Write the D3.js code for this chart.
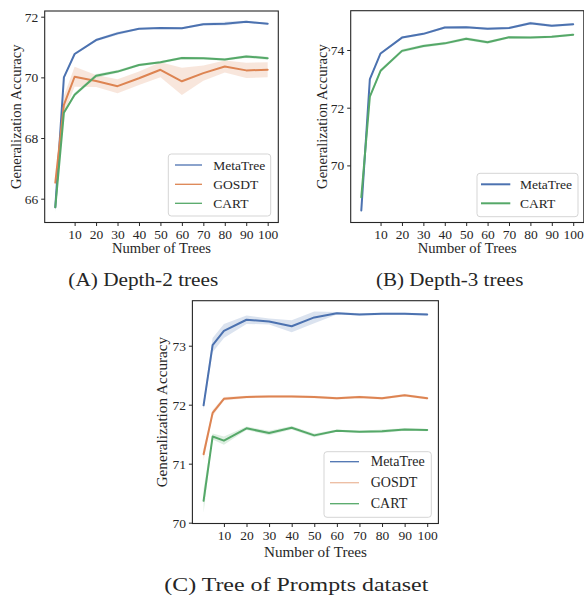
<!DOCTYPE html>
<html>
<head>
<meta charset="utf-8">
<script src="https://cdn.jsdelivr.net/npm/d3@7"></script>
<style>
  html, body { margin: 0; padding: 0; background: #fff; }
  svg { display: block; }
  svg text { font-family: "Liberation Serif", Tinos, "Times New Roman", "DejaVu Serif", serif !important; fill: #262626; }
</style>
</head>
<body>
<script>
// Number of trees in the ensemble (shared x values)
const treeCounts = [1, 5, 10, 20, 30, 40, 50, 60, 70, 80, 90, 100];
const xTickLabels = [10, 20, 30, 40, 50, 60, 70, 80, 90, 100];

// (A) Depth-2 trees: mean accuracy and half-width of the confidence band
const depth2MetaTree    = [65.72, 70.00, 70.77, 71.23, 71.45, 71.60, 71.63, 71.62, 71.75, 71.77, 71.83, 71.77];
const depth2MetaTreeErr = [0.10, 0.05, 0.04, 0.04, 0.05, 0.03, 0.03, 0.03, 0.04, 0.06, 0.04, 0.03];
const depth2Gosdt       = [66.53, 69.09, 70.02, 69.88, 69.71, 69.97, 70.25, 69.87, 70.14, 70.36, 70.23, 70.25];
const depth2GosdtErr    = [0.05, 0.30, 0.33, 0.20, 0.23, 0.22, 0.25, 0.45, 0.25, 0.20, 0.25, 0.25];
const depth2Cart        = [65.72, 68.83, 69.43, 70.05, 70.19, 70.41, 70.50, 70.64, 70.63, 70.59, 70.69, 70.63];
const depth2CartErr     = [0.17, 0.05, 0.06, 0.06, 0.05, 0.04, 0.04, 0.04, 0.04, 0.04, 0.05, 0.05];
const depth2YTicks      = [66, 68, 70, 72];

// (B) Depth-3 trees
const depth3MetaTree    = [68.44, 72.99, 73.88, 74.43, 74.56, 74.78, 74.79, 74.74, 74.76, 74.93, 74.84, 74.89];
const depth3MetaTreeErr = [0.06, 0.05, 0.04, 0.04, 0.04, 0.04, 0.04, 0.04, 0.04, 0.05, 0.04, 0.04];
const depth3Cart        = [68.90, 72.38, 73.28, 73.97, 74.14, 74.23, 74.39, 74.27, 74.44, 74.43, 74.46, 74.53];
const depth3CartErr     = [0.06, 0.06, 0.06, 0.06, 0.05, 0.05, 0.05, 0.05, 0.04, 0.04, 0.04, 0.04];
const depth3YTicks      = [70, 72, 74];

// (C) Tree of Prompts dataset
const topMetaTree    = [71.99, 73.01, 73.25, 73.44, 73.41, 73.33, 73.48, 73.55, 73.53, 73.54, 73.54, 73.53];
const topMetaTreeErr = [0.08, 0.12, 0.12, 0.07, 0.05, 0.10, 0.10, 0.02, 0.02, 0.02, 0.02, 0.02];
const topGosdt       = [71.16, 71.86, 72.10, 72.13, 72.14, 72.14, 72.13, 72.11, 72.13, 72.11, 72.16, 72.11];
const topGosdtErr    = [0.10, 0.05, 0.03, 0.02, 0.02, 0.02, 0.02, 0.02, 0.02, 0.02, 0.02, 0.02];
const topCart        = [70.37, 71.46, 71.39, 71.60, 71.52, 71.61, 71.48, 71.56, 71.54, 71.55, 71.58, 71.57];
const topCartErr     = [0.20, 0.05, 0.07, 0.03, 0.04, 0.03, 0.03, 0.02, 0.02, 0.03, 0.02, 0.02];
const topYTicks      = [70, 71, 72, 73];

const COLORS = { MetaTree: "#4c72b0", GOSDT: "#dd8452", CART: "#55a868" };
const INK = "#262626";
const SERIF = '"Liberation Serif", Tinos, "Times New Roman", "DejaVu Serif", serif';

const svg = d3.select("body").append("svg")
  .attr("width", 584).attr("height", 595)
  .attr("font-family", SERIF);

function drawPanel(p) {
  const x = d3.scaleLinear().domain([-3.95, 104.95]).range([p.left, p.right]);
  const y = d3.scaleLinear().domain(p.yDomain).range([p.bottom, p.top]);
  const g = svg.append("g");

  const clipId = "clip-" + p.id;
  g.append("clipPath").attr("id", clipId)
    .append("rect").attr("x", p.left).attr("y", p.top)
    .attr("width", p.right - p.left).attr("height", p.bottom - p.top);

  const plot = g.append("g").attr("clip-path", `url(#${clipId})`);

  p.series.forEach(s => {
    const rows = treeCounts.map((t, i) => ({ t, v: s.values[i], e: s.err[i] }));
    plot.append("path").datum(rows)
      .attr("d", d3.area().x(d => x(d.t)).y0(d => y(d.v - d.e)).y1(d => y(d.v + d.e)))
      .attr("fill", COLORS[s.name]).attr("fill-opacity", 0.2).attr("stroke", "none");
  });
  p.series.forEach(s => {
    const rows = treeCounts.map((t, i) => ({ t, v: s.values[i] }));
    plot.append("path").datum(rows)
      .attr("d", d3.line().x(d => x(d.t)).y(d => y(d.v)))
      .attr("fill", "none").attr("stroke", COLORS[s.name])
      .attr("stroke-width", 2).attr("stroke-linejoin", "round").attr("stroke-linecap", "round");
  });

  // axes
  const xAxis = g.append("g").attr("transform", `translate(0,${p.bottom})`)
    .call(d3.axisBottom(x).tickValues(xTickLabels).tickFormat(d3.format("d"))
      .tickSize(3.5).tickPadding(3));
  const yAxis = g.append("g").attr("transform", `translate(${p.left},0)`)
    .call(d3.axisLeft(y).tickValues(p.yTicks).tickFormat(d3.format("d"))
      .tickSize(3.5).tickPadding(3));
  [xAxis, yAxis].forEach(a => {
    a.attr("font-family", SERIF);
    a.select(".domain").remove();
    a.selectAll(".tick line").attr("stroke", INK).attr("stroke-width", 1);
    a.selectAll(".tick text").attr("fill", INK)
      .style("font-family", SERIF).style("font-size", p.tickFont + "px");
  });

  // frame
  g.append("rect").attr("x", p.left).attr("y", p.top)
    .attr("width", p.right - p.left).attr("height", p.bottom - p.top)
    .attr("fill", "none").attr("stroke", INK).attr("stroke-width", 1.1);

  // axis titles
  g.append("text").attr("x", (p.left + p.right) / 2).attr("y", p.xTitleY)
    .attr("text-anchor", "middle").style("font-size", p.titleFont + "px")
    .style("font-family", SERIF)
    .text("Number of Trees");
  g.append("text")
    .attr("transform", `translate(${p.yTitleX},${(p.top + p.bottom) / 2}) rotate(-90)`)
    .attr("text-anchor", "middle").attr("dominant-baseline", "central")
    .style("font-size", p.titleFont + "px").style("font-family", SERIF)
    .text("Generalization Accuracy");

  // legend
  const L = p.legend;
  g.append("rect").attr("x", L.x0).attr("y", L.y0)
    .attr("width", L.x1 - L.x0).attr("height", L.y1 - L.y0)
    .attr("rx", 3).attr("fill", "#fff").attr("fill-opacity", 0.8)
    .attr("stroke", "#d5d5d5").attr("stroke-width", 1);
  p.series.forEach((s, i) => {
    const ry = L.rows[i];
    g.append("line").attr("x1", L.lineX0).attr("x2", L.lineX1)
      .attr("y1", ry).attr("y2", ry)
      .attr("stroke", COLORS[s.name]).attr("stroke-width", L.lineWidth)
      .attr("stroke-opacity", s.name === "GOSDT" ? L.gosdtOpacity : 1);
    g.append("text").attr("x", L.textX).attr("y", ry)
      .attr("dominant-baseline", "central")
      .style("font-size", L.font + "px").style("font-family", SERIF).text(s.name);
  });

  // caption
  g.append("text").attr("x", p.caption.x).attr("y", p.caption.y)
    .attr("text-anchor", "middle")
    .attr("textLength", p.caption.width).attr("lengthAdjust", "spacingAndGlyphs")
    .style("font-size", p.caption.font + "px").style("font-family", SERIF)
    .text(p.caption.text);
}

drawPanel({
  id: "a", left: 44.7, right: 278.3, top: 11, bottom: 222.5,
  yDomain: [65.215, 72.188], yTicks: depth2YTicks,
  tickFont: 13.5, titleFont: 14.6, xTitleY: 253.3, yTitleX: 15.7,
  series: [
    { name: "MetaTree", values: depth2MetaTree, err: depth2MetaTreeErr },
    { name: "GOSDT", values: depth2Gosdt, err: depth2GosdtErr },
    { name: "CART", values: depth2Cart, err: depth2CartErr }
  ],
  legend: { x0: 168.3, x1: 270.7, y0: 154, y1: 216, rows: [165, 184.3, 203.3],
            lineX0: 175, lineX1: 202, textX: 213.3, font: 13.5, lineWidth: 1.3, gosdtOpacity: 1 },
  caption: { text: "(A) Depth-2 trees", x: 143.3, y: 286, font: 17.8, width: 150 }
});

drawPanel({
  id: "b", left: 350.7, right: 583.8, top: 10.7, bottom: 222.5,
  yDomain: [68.021, 75.362], yTicks: depth3YTicks,
  tickFont: 13.5, titleFont: 14.6, xTitleY: 253.3, yTitleX: 322,
  series: [
    { name: "MetaTree", values: depth3MetaTree, err: depth3MetaTreeErr },
    { name: "CART", values: depth3Cart, err: depth3CartErr }
  ],
  legend: { x0: 477, x1: 578, y0: 173.3, y1: 216.7, rows: [184.3, 203.3],
            lineX0: 481, lineX1: 510.3, textX: 520, font: 13.5, lineWidth: 2, gosdtOpacity: 1 },
  caption: { text: "(B) Depth-3 trees", x: 449.7, y: 286, font: 17.8, width: 147.3 }
});

drawPanel({
  id: "c", left: 192.4, right: 438.4, top: 300.7, bottom: 523.5,
  yDomain: [69.986, 73.763], yTicks: topYTicks,
  tickFont: 13.5, titleFont: 15.2, xTitleY: 556.7, yTitleX: 161.7,
  series: [
    { name: "MetaTree", values: topMetaTree, err: topMetaTreeErr },
    { name: "GOSDT", values: topGosdt, err: topGosdtErr },
    { name: "CART", values: topCart, err: topCartErr }
  ],
  legend: { x0: 324, x1: 431.3, y0: 451.7, y1: 517.3, rows: [461.7, 482.7, 503.7],
            lineX0: 330, lineX1: 359, textX: 370.7, font: 14, lineWidth: 1.3, gosdtOpacity: 0.55 },
  caption: { text: "(C) Tree of Prompts dataset", x: 296.3, y: 591, font: 19.5, width: 264 }
});
</script>
</body>
</html>
